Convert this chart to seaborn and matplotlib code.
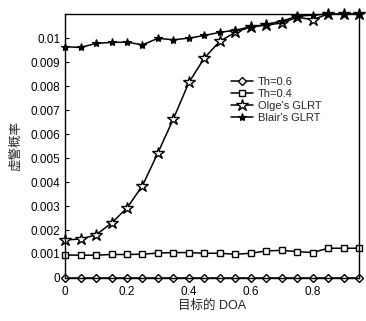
import numpy as np
import pandas as pd
import matplotlib
matplotlib.use("Agg")
import matplotlib.pyplot as plt
import seaborn as sns

doa = [0.0, 0.05, 0.1, 0.15, 0.2, 0.25, 0.3, 0.35, 0.4, 0.45,
       0.5, 0.55, 0.6, 0.65, 0.7, 0.75, 0.8, 0.85, 0.9, 0.95]
th06 = [0.0] * 20
th04 = [0.00096, 0.00095, 0.00095, 0.00098, 0.00098, 0.00099, 0.00104, 0.00106, 0.00106, 0.00103,
        0.00103, 0.00099, 0.00103, 0.00113, 0.00115, 0.00110, 0.00106, 0.00124, 0.00124, 0.00124]
olge = [0.00159, 0.00162, 0.00180, 0.00229, 0.00292, 0.00385, 0.00522, 0.00664, 0.00815, 0.00917,
        0.00987, 0.01024, 0.01047, 0.01054, 0.01063, 0.01087, 0.01077, 0.0110, 0.0110, 0.0110]
blair = [0.00964, 0.00961, 0.00978, 0.00982, 0.00983, 0.00972, 0.00999, 0.00993, 0.01000, 0.01011,
         0.01024, 0.01033, 0.01047, 0.01057, 0.01071, 0.01091, 0.01096, 0.0110, 0.0110, 0.0110]
labels = ["Th=0.6", "Th=0.4", "Olge's GLRT", "Blair's GLRT"]

sns.set_theme(style="ticks")
plt.rcParams['font.family'] = ['Liberation Sans', 'Noto Sans CJK SC', 'DejaVu Sans']

fig = plt.figure(figsize=(3.66, 3.21), dpi=100)
ax = fig.add_axes([0.178, 0.134, 0.803, 0.822])

styles = [
    dict(marker='D', markersize=4.5, markerfacecolor='white', markeredgecolor='black', markeredgewidth=1.0),
    dict(marker='s', markersize=4.5, markerfacecolor='white', markeredgecolor='black', markeredgewidth=1.0),
    dict(marker='*', markersize=9, markerfacecolor='white', markeredgecolor='black', markeredgewidth=1.0),
    dict(marker='*', markersize=6, markerfacecolor='black', markeredgecolor='black', markeredgewidth=0.8),
]
for vals, lab, st in zip([th06, th04, olge, blair], labels, styles):
    df = pd.DataFrame({"DOA": doa, "Pfa": vals})
    sns.lineplot(data=df, x="DOA", y="Pfa", ax=ax, color='black', linewidth=1.1,
                 label=lab, clip_on=False, **st)

ax.set_xlim(0, 0.95)
ax.set_ylim(0, 0.011)
ax.set_xticks([0, 0.2, 0.4, 0.6, 0.8])
ax.set_xticklabels(["0", "0.2", "0.4", "0.6", "0.8"])
yt = [0, 0.001, 0.002, 0.003, 0.004, 0.005, 0.006, 0.007, 0.008, 0.009, 0.01]
ax.set_yticks(yt)
ax.set_yticklabels(["0", "0.001", "0.002", "0.003", "0.004", "0.005", "0.006",
                    "0.007", "0.008", "0.009", "0.01"])
ax.tick_params(direction='in', length=3, labelsize=8.5, colors='black', width=0.8)
ax.tick_params(axis='x', pad=6)
for s in ax.spines.values():
    s.set_visible(True)
    s.set_color('black')
    s.set_linewidth(1.0)
ax.set_xlabel("目标的 DOA", fontsize=9, labelpad=1)
ax.set_ylabel("虚警概率", fontsize=9, labelpad=6)
leg = ax.legend(loc='upper left', bbox_to_anchor=(0.55, 0.78), frameon=False, fontsize=8,
                handlelength=2.0, handletextpad=0.4, labelspacing=0.2, borderaxespad=0)
fig.savefig("out.png", dpi=100)
